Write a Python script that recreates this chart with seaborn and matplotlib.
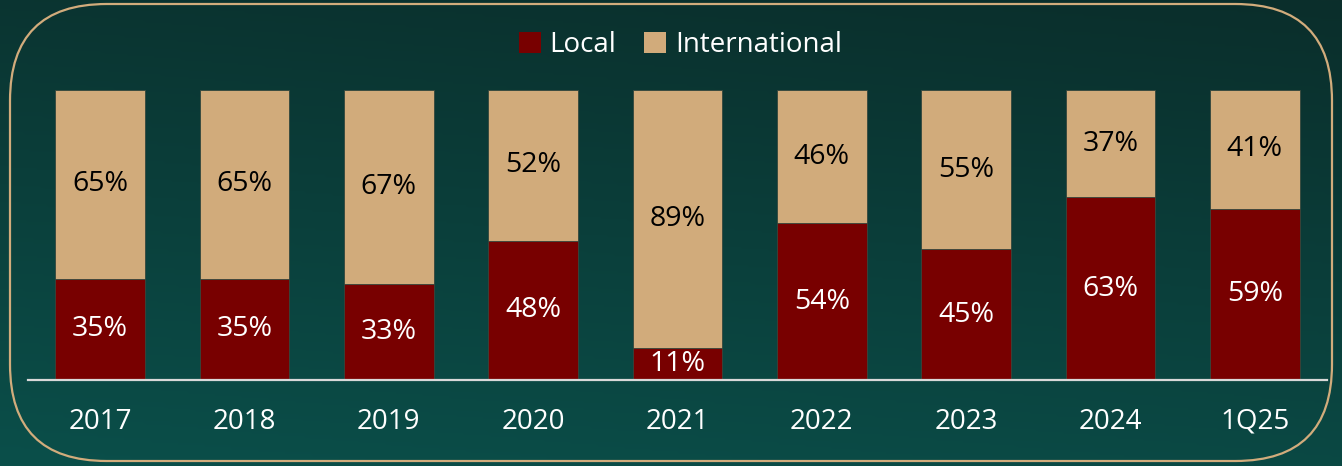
import numpy as np
import pandas as pd
import matplotlib.pyplot as plt
import seaborn as sns
from matplotlib.patches import FancyBboxPatch, Patch
from matplotlib.colors import LinearSegmentedColormap

# Data
years = ['2017', '2018', '2019', '2020', '2021', '2022', '2023', '2024', '1Q25']
local = [35, 35, 33, 48, 11, 54, 45, 63, 59]
international = [65, 65, 67, 52, 89, 46, 55, 37, 41]

RED = '#780000'
TAN = '#D1AB7B'

df = pd.DataFrame({'year': years, 'local': local, 'intl': international})
df['total'] = df['local'] + df['intl']

sns.set_theme(style='white')
plt.rcParams['font.family'] = ['Open Sans', 'DejaVu Sans']

fig = plt.figure(figsize=(13.42, 4.66), dpi=100)

# Gradient background
bg = fig.add_axes([0, 0, 1, 1], zorder=-10)
cmap = LinearSegmentedColormap.from_list('bg', ['#0B2E2B', '#0A4F4A'])
yy, xx = np.mgrid[0:1:200j, 0:1:400j]
grad = 0.8 * yy + 0.2 * (1 - xx)
bg.imshow(grad, cmap=cmap, aspect='auto', extent=[0, 1, 1, 0], origin='upper')
bg.set_xlim(0, 1)
bg.set_ylim(1, 0)
bg.axis('off')

# Rounded border
border = FancyBboxPatch((10 / 1342, 5 / 466), 1322 / 1342, 457 / 466,
                        boxstyle='round,pad=0,rounding_size=0.072',
                        transform=fig.transFigure, fill=False,
                        edgecolor='#D2AC7C', linewidth=1.6,
                        mutation_aspect=1342 / 466)
fig.patches.append(border)

# Main axes
ax = fig.add_axes([28 / 1342, 86 / 466, 1299 / 1342, 290 / 466])
ax.patch.set_alpha(0)

sns.barplot(data=df, x='year', y='total', color=TAN, width=0.62,
            edgecolor='#33463c', linewidth=0.6, saturation=1, ax=ax)
sns.barplot(data=df, x='year', y='local', color=RED, width=0.62,
            edgecolor='#33463c', linewidth=0.6, saturation=1, ax=ax)

for i, (l, t) in enumerate(zip(local, international)):
    ax.text(i, l / 2, f'{l}%', ha='center', va='center', color='white', fontsize=20.5)
    ax.text(i, l + t / 2, f'{t}%', ha='center', va='center', color='black', fontsize=20.5)

ax.set_xlim(-0.5, len(years) - 0.5)
ax.set_ylim(0, 100)
ax.set_xlabel('')
ax.set_ylabel('')
ax.set_yticks([])
ax.tick_params(axis='x', length=0, pad=20, labelsize=20, colors='white')
for s in ['top', 'right', 'left']:
    ax.spines[s].set_visible(False)
ax.spines['bottom'].set_color('#D9D9D9')
ax.spines['bottom'].set_linewidth(1.6)

handles = [Patch(facecolor=RED, edgecolor='none', label='Local'),
           Patch(facecolor=TAN, edgecolor='none', label='International')]
fig.legend(handles=handles, loc='center', bbox_to_anchor=(0.507, 1 - 45 / 466), ncol=2,
           frameon=False, fontsize=20, labelcolor='white', handlelength=0.8,
           handleheight=0.8, handletextpad=0.3, columnspacing=1.0)

plt.savefig('out.png', dpi=100)
